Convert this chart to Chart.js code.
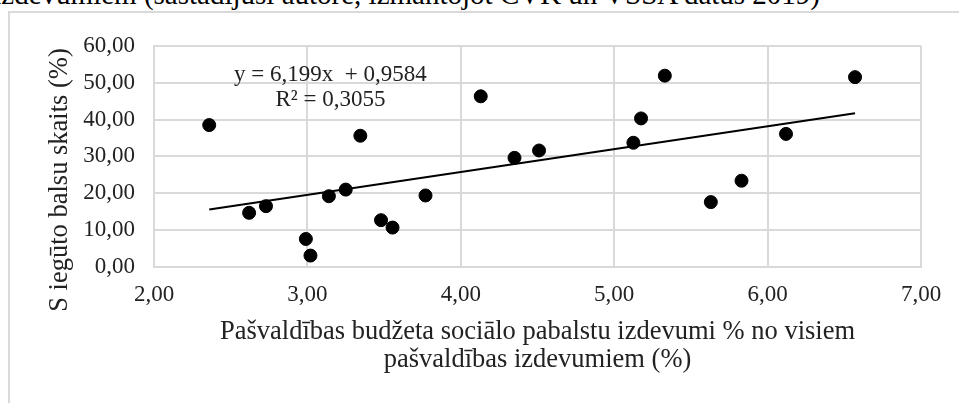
<!DOCTYPE html>
<html>
<head>
<meta charset="utf-8">
<script src="https://cdn.jsdelivr.net/npm/chart.js@4/dist/chart.umd.min.js"></script>
<style>
  body { margin: 0; background: #fff; overflow: hidden; }
  #caption {
    position: absolute; right: calc(959px - 820px); top: -20px;
    font: 29px/29px "Liberation Serif", "Times New Roman", serif;
    color: #000; white-space: nowrap; text-align: right;
  }
  #frame {
    position: absolute; left: 8px; top: 11px; width: 1000px; height: 500px;
    border: 2px solid #d9d9d9;
  }
  #chart { display: block; }
</style>
</head>
<body>
<div id="caption">pašvaldības izdevumiem (sastādījusi autore, izmantojot CVK un VSSA datus 2019)</div>
<div id="frame"><canvas id="chart" width="949" height="390"></canvas></div>
<script>
const ctx = document.getElementById('chart');

/* =========================
   DATA
========================= */
// x: sociālo pabalstu izdevumi %, y: iegūto balsu skaits %
const xVals = [2.36, 2.62, 2.73, 2.99, 3.02, 3.14, 3.25, 3.345, 3.48, 3.555, 3.77,
               4.13, 4.35, 4.51, 5.125, 5.175, 5.33, 5.63, 5.83, 6.12, 6.57];
const yVals = [38.5, 14.7, 16.5, 7.6, 3.1, 19.2, 21.0, 35.6, 12.7, 10.7, 19.4,
               46.3, 29.6, 31.6, 33.7, 40.3, 51.9, 17.6, 23.4, 36.1, 51.5];

const xTicks = [2, 3, 4, 5, 6, 7];
const yTicks = [0, 10, 20, 30, 40, 50, 60];

// trendline y = a*x + b
const slope = 6.199;
const intercept = 0.9584;
const rSquared = 0.3055;

const xTitle = ['Pašvaldības budžeta sociālo pabalstu izdevumi % no visiem', 'pašvaldības izdevumiem (%)'];
const yTitle = 'S iegūto balsu skaits (%)';

/* =========================
   HELPERS
========================= */
const fmt = (v, d) => v.toFixed(d).replace('.', ',');

const points = xVals.map((x, i) => ({x: x, y: yVals[i]}));
const xMin = Math.min(...xVals);
const xMax = Math.max(...xVals);
const trend = [
  {x: xMin, y: slope * xMin + intercept},
  {x: xMax, y: slope * xMax + intercept}
];

const serif = '"Liberation Serif", "Times New Roman", serif';
const textColor = '#222';
const gridColor = '#d9d9d9';

/* =========================
   EXTRA TEXT (y title, equation)
========================= */
const extraText = {
  id: 'extraText',
  afterDraw(chart){
    const c = chart.ctx;
    const sx = chart.scales.x, sy = chart.scales.y;
    c.save();
    c.fillStyle = textColor;
    c.textAlign = 'center';
    c.textBaseline = 'middle';

    // y axis title
    c.font = '26.5px ' + serif;
    c.translate(50, 167);
    c.rotate(-Math.PI / 2);
    c.fillText(yTitle, 0, 0);
    c.setTransform(1, 0, 0, 1, 0, 0);

    // regression equation
    c.font = '23px ' + serif;
    const ex = sx.getPixelForValue(3.15);
    c.fillText('y = ' + fmt(slope, 3) + 'x  + ' + fmt(intercept, 4), ex, sy.getPixelForValue(52.0));
    c.fillText('R² = ' + fmt(rSquared, 4), ex, sy.getPixelForValue(45.3));
    c.restore();
  }
};

/* =========================
   CHART
========================= */
new Chart(ctx, {
  type: 'scatter',
  data: {
    datasets: [
      {
        label: 'Dati',
        data: points,
        backgroundColor: '#000',
        borderColor: '#000',
        pointRadius: 6.5,
        pointHoverRadius: 6.5
      },
      {
        type: 'line',
        label: 'Trend',
        data: trend,
        borderColor: '#000',
        borderWidth: 2,
        pointRadius: 0,
        fill: false
      }
    ]
  },
  options: {
    responsive: false,
    animation: false,
    devicePixelRatio: 1,
    layout: { padding: { top: 29, right: 38, left: 0, bottom: 0 } },
    plugins: {
      legend: { display: false },
      tooltip: { enabled: false }
    },
    scales: {
      x: {
        type: 'linear',
        min: xTicks[0],
        max: xTicks[xTicks.length - 1],
        afterFit: (s) => { s.height = 136; },
        afterBuildTicks: (s) => { s.ticks = xTicks.map(v => ({value: v})); },
        grid: { color: gridColor, lineWidth: 2, drawTicks: false },
        border: { color: gridColor, width: 2 },
        ticks: {
          padding: 14,
          color: textColor,
          font: { family: serif, size: 23, lineHeight: 1.2 },
          callback: (v) => fmt(v, 2)
        },
        title: {
          display: true,
          text: xTitle,
          color: textColor,
          font: { family: serif, size: 26.5, lineHeight: '28px' },
          padding: { top: 0, bottom: 29 }
        }
      },
      y: {
        type: 'linear',
        min: yTicks[0],
        max: yTicks[yTicks.length - 1],
        afterFit: (s) => { s.width = 144; },
        afterBuildTicks: (s) => { s.ticks = yTicks.map(v => ({value: v})); },
        grid: { color: gridColor, lineWidth: 2, drawTicks: false },
        border: { color: gridColor, width: 2 },
        ticks: {
          padding: 19,
          color: textColor,
          font: { family: serif, size: 23, lineHeight: 1.2 },
          callback: (v) => fmt(v, 2)
        }
      }
    }
  },
  plugins: [extraText]
});
</script>
</body>
</html>
